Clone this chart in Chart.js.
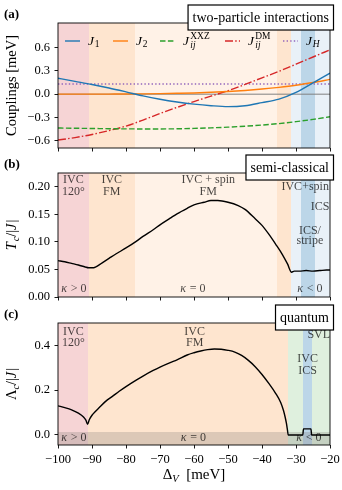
<!DOCTYPE html>
<html><head><meta charset="utf-8">
<script src="https://cdn.jsdelivr.net/npm/chart.js@4.4.1/dist/chart.umd.min.js"></script>
<style>
html,body{margin:0;padding:0;background:#fff;}
#wrap{position:relative;width:342px;height:490px;overflow:hidden;}
canvas{position:absolute;left:0;top:0;}
</style></head><body>
<div id="wrap">
<canvas id="ca" width="342" height="490"></canvas>
<canvas id="cb" width="342" height="490"></canvas>
<canvas id="cc" width="342" height="490"></canvas>
</div>
<script>
// ================= DATA =================
// panel (a): two-particle couplings [meV] vs Delta_V [meV]
const deltaV_a = [-100,-95,-90,-85,-80,-75,-70,-65,-60,-55,-50,-45,-40,-35,-30,-25,-20];
const J1    = [0.205,0.165,0.125,0.08,0.03,-0.022,-0.065,-0.10,-0.128,-0.148,-0.16,-0.148,-0.108,-0.063,0.023,0.145,0.27];
const J2    = [0,0,0,0.001,0.002,0.004,0.007,0.011,0.016,0.024,0.034,0.048,0.066,0.088,0.115,0.15,0.19];
const J_XXZ = [-0.435,-0.438,-0.441,-0.444,-0.446,-0.447,-0.447,-0.445,-0.44,-0.433,-0.424,-0.412,-0.397,-0.378,-0.353,-0.324,-0.29];
const J_DM  = [-0.59,-0.558,-0.518,-0.468,-0.41,-0.333,-0.248,-0.17,-0.095,-0.025,0.045,0.125,0.21,0.294,0.385,0.478,0.57];
const deltaV_H = [-100,-20];
const J_H   = [0.131,0.131];
const zeroRef = [0,0];

// panel (b): semi-classical T_c/|J|
const deltaV_b = [-100,-98,-96,-94,-92,-91,-90,-89.5,-89,-87,-85,-83,-80,-77,-75,-72,-70,-67,-65,-62,-60,-57,-55,-53,-50,-47,-45,-42,-40,-38,-36,-34,-32.5,-31.3,-30.5,-29,-27,-25,-23,-21,-20];
const Tc = [0.066,0.064,0.061,0.058,0.0545,0.053,0.053,0.053,0.054,0.062,0.070,0.078,0.089,0.101,0.110,0.122,0.131,0.143,0.151,0.161,0.167,0.172,0.175,0.175,0.172,0.166,0.159,0.142,0.130,0.114,0.096,0.077,0.060,0.045,0.047,0.047,0.048,0.047,0.048,0.049,0.049];

// panel (c): quantum Lambda_c/|J|
const deltaV_c = [-100,-98,-96,-94,-92.5,-91.8,-91.3,-90.8,-90,-89,-88,-86,-84,-82,-80,-77,-75,-72,-70,-67,-65,-62,-60,-58,-56,-54,-52,-50,-48,-46,-44,-42,-40,-38,-36,-34.5,-33.7,-33.2,-32.8,-32.5,-32.3,-28,-27.8,-25.6,-25.4,-20];
const Lc = [0.13,0.122,0.112,0.097,0.08,0.066,0.048,0.068,0.088,0.105,0.12,0.15,0.172,0.195,0.216,0.245,0.263,0.288,0.303,0.323,0.335,0.357,0.367,0.375,0.381,0.384,0.383,0.378,0.37,0.355,0.333,0.305,0.27,0.23,0.186,0.145,0.11,0.08,0.05,0.02,0,0,0.027,0.027,0,0];

// phase boundaries [meV]
const phaseEdgesAB = [-100,-90.8,-77.4,-35.7,-31.5,-28.5,-24.4,-20];
const phaseEdgesC  = [-100,-91.3,-32.3,-28,-25.2,-20];
const kappaBandTop = 0.012;

// ticks
const xTicks = [-100,-90,-80,-70,-60,-50,-40,-30,-20];
const xTickLabels = ['\u2212100','\u221290','\u221280','\u221270','\u221260','\u221250','\u221240','\u221230','\u221220'];
const yTicksA = [-0.6,-0.3,0,0.3,0.6];
const yTickLabelsA = ['\u22120.6','\u22120.3','0.0','0.3','0.6'];
const yTicksB = [0,0.05,0.1,0.15,0.2];
const yTickLabelsB = ['0.00','0.05','0.10','0.15','0.20'];
const yTicksC = [0,0.2,0.4];
const yTickLabelsC = ['0.0','0.2','0.4'];

// ================= STYLE =================
const FONT = "'Liberation Serif', serif";
const PINK='rgb(246,212,213)', ORANGE='rgb(254,229,207)', PEACH='rgb(255,242,231)',
      LBLUE='rgb(233,241,248)', BLUE='rgb(188,214,232)', GREEN='rgb(223,240,222)';
const BAND='rgba(120,115,110,0.25)';
const LABEL_COL='rgba(0,0,0,0.72)';
function F(size,it,bold){return (it?'italic ':'')+(bold?'bold ':'')+size+'px '+FONT;}
function pts(xs,ys){return xs.map((x,i)=>({x:x,y:ys[i]}));}

function segW(ctx,s,size){
  const sm=size*0.7;
  if(s.stack){ctx.font=F(sm,false);const a=ctx.measureText(s.sup).width;ctx.font=F(sm,true);const b=ctx.measureText(s.sub).width;return Math.max(a,b)+1;}
  const fs=(s.sub||s.sup)?sm:size; ctx.font=F(fs,s.it);
  return ctx.measureText(s.t).width+(s.it&&!s.sub&&!s.sup?size*0.06:0);
}
function drawRich(ctx,segs,x,y,size,align,color){
  const ws=segs.map(s=>segW(ctx,s,size));
  const tot=ws.reduce((a,b)=>a+b,0);
  let cx=align==='center'?x-tot/2:(align==='right'?x-tot:x);
  ctx.save();ctx.fillStyle=color||'#000';ctx.textBaseline='middle';ctx.textAlign='left';
  const sm=size*0.7;
  segs.forEach((s,i)=>{
    if(s.stack){ctx.font=F(sm,false);ctx.fillText(s.sup,cx+0.5,y-size*0.36);ctx.font=F(sm,true);ctx.fillText(s.sub,cx+0.5,y+size*0.3);}
    else if(s.sub){ctx.font=F(sm,s.it);ctx.fillText(s.t,cx,y+size*0.28);}
    else if(s.sup){ctx.font=F(sm,s.it);ctx.fillText(s.t,cx,y-size*0.36);}
    else {ctx.font=F(size,s.it);ctx.fillText(s.t,cx,y);}
    cx+=ws[i];
  });
  ctx.restore();return tot;
}
const R=t=>({t:t}), I=t=>({t:t,it:true}), SUB=(t,it)=>({t:t,sub:true,it:!!it});

function decoPlugin(p){
  return {
    id:'deco'+p.name,
    beforeDraw(chart){
      const ctx=chart.ctx,a=chart.chartArea,xs=chart.scales.x,ys=chart.scales.y;
      ctx.save();
      for(let i=0;i<p.edges.length-1;i++){
        const x0=Math.round(xs.getPixelForValue(p.edges[i])),x1=Math.round(xs.getPixelForValue(p.edges[i+1]));
        ctx.fillStyle=p.colors[i];ctx.fillRect(x0,a.top,x1-x0,a.bottom-a.top);
      }
      if(p.band!==undefined){const yb=Math.round(ys.getPixelForValue(p.band));ctx.fillStyle=BAND;ctx.fillRect(a.left,yb,a.right-a.left,a.bottom-yb);}
      ctx.restore();
    },
    afterDraw(chart){
      const ctx=chart.ctx,a=chart.chartArea,xs=chart.scales.x,ys=chart.scales.y;
      // frame
      ctx.save();ctx.strokeStyle='#000';ctx.lineWidth=0.9;ctx.strokeRect(a.left,a.top,a.right-a.left,a.bottom-a.top);ctx.restore();
      // region labels
      ctx.save();ctx.beginPath();ctx.rect(a.left,a.top,a.right-a.left,a.bottom-a.top);ctx.clip();
      (p.labels||[]).forEach(L=>{
        const px=xs.getPixelForValue(L.x);
        L.lines.forEach((ln,k)=>{
          const segs=Array.isArray(ln)?ln:[R(ln)];
          drawRich(ctx,segs,px,ys.getPixelForValue(L.y[k]),L.size||12,'center',LABEL_COL);
        });
      });
      ctx.restore();
      // legend
      if(p.legend){
        const ly=a.top+p.legend.dy;
        p.legend.items.forEach((it,k)=>{
          const x0=a.left+p.legend.offs[k];
          ctx.save();ctx.strokeStyle=it.color;ctx.lineWidth=1.4;ctx.setLineDash(it.dash);
          ctx.beginPath();ctx.moveTo(x0,ly);ctx.lineTo(x0+15,ly);ctx.stroke();ctx.restore();
          drawRich(ctx,it.segs,x0+23,ly,13.5,'left','#000');
        });
      }
      // title box
      if(p.box){
        ctx.save();ctx.font=F(14);const w=ctx.measureText(p.box).width+9;const h=25;
        const rx=a.right+3.5, ty=a.top-18;
        ctx.fillStyle='#fff';ctx.fillRect(rx-w,ty,w,h);
        ctx.strokeStyle='#000';ctx.lineWidth=1.2;ctx.strokeRect(rx-w,ty,w,h);
        ctx.fillStyle='#000';ctx.textBaseline='middle';ctx.textAlign='center';
        ctx.fillText(p.box,rx-w/2,ty+h/2+0.5);ctx.restore();
      }
      // panel letter
      ctx.save();ctx.font=F(13,false,true);ctx.fillStyle='#000';ctx.textBaseline='middle';ctx.textAlign='left';
      ctx.fillText(p.letter,4,a.top-8);ctx.restore();
      // y title
      ctx.save();ctx.translate(12,(a.top+a.bottom)/2);ctx.rotate(-Math.PI/2);
      drawRich(ctx,p.ytitle,0,0,14.5,'center','#000');ctx.restore();
      // x title
      if(p.xtitle){drawRich(ctx,p.xtitle,(a.left+a.right)/2,475,15,'center','#000');}
    }
  };
}

function makeChart(id,cfg){
  return new Chart(document.getElementById(id),{
    type:'line',
    data:{datasets:cfg.datasets},
    options:{
      responsive:false,animation:false,devicePixelRatio:1,
      layout:{padding:{left:0,right:12,top:cfg.top,bottom:490-cfg.bottom-cfg.xh}},
      plugins:{legend:{display:false},tooltip:{enabled:false}},
      elements:{point:{radius:0},line:{cubicInterpolationMode:'monotone'}},
      scales:{
        x:{type:'linear',min:-100,max:-20,
          afterBuildTicks:s=>{s.ticks=xTicks.map(v=>({value:v}));},
          afterFit:s=>{s.height=cfg.xh;s.paddingLeft=0;s.paddingRight=0;},
          grid:{display:true,drawOnChartArea:false,drawTicks:true,tickLength:3.5,tickColor:'#000',tickWidth:0.9,color:'#000',lineWidth:0.9},
          border:{display:false},
          ticks:{display:cfg.xlabels,padding:4,color:'#000',font:{family:FONT,size:12.5},maxRotation:0,autoSkip:false,
                 callback:(v,i)=>xTickLabels[i]}
        },
        y:{type:'linear',min:cfg.ymin,max:cfg.ymax,
          afterBuildTicks:s=>{s.ticks=cfg.yticks.map(v=>({value:v}));},
          afterFit:s=>{s.width=58;s.paddingTop=0;s.paddingBottom=0;},
          grid:{display:true,drawOnChartArea:false,drawTicks:true,tickLength:3.5,tickColor:'#000',tickWidth:0.9,color:'#000',lineWidth:0.9},
          border:{display:false},
          ticks:{padding:4.5,color:'#000',font:{family:FONT,size:12.5},autoSkip:false,
                 callback:(v,i)=>cfg.ylabels[i]}
        }
      }
    },
    plugins:[cfg.plugin]
  });
}

const LW=1.4;
// panel (a)
makeChart('ca',{
  top:23,bottom:148,xh:4,xlabels:false,ymin:-0.692,ymax:0.915,yticks:yTicksA,ylabels:yTickLabelsA,
  datasets:[
    {data:pts(deltaV_a,J1),borderColor:'#1f77b4',borderWidth:LW},
    {data:pts(deltaV_a,J2),borderColor:'#ff7f0e',borderWidth:LW},
    {data:pts(deltaV_a,J_XXZ),borderColor:'#2ca02c',borderWidth:LW,borderDash:[5.5,2.4]},
    {data:pts(deltaV_a,J_DM),borderColor:'#d62728',borderWidth:LW,borderDash:[8,2.2,1.5,2.2]},
    {data:pts(deltaV_H,J_H),borderColor:'#9467bd',borderWidth:LW,borderDash:[1.4,2.2]},
    {data:pts(deltaV_H,zeroRef),borderColor:'#808080',borderWidth:1}
  ],
  plugin:decoPlugin({name:'a',letter:'(a)',edges:phaseEdgesAB,colors:[PINK,ORANGE,PEACH,ORANGE,LBLUE,BLUE,LBLUE],
    box:'two-particle interactions',
    ytitle:[R('Couplings [meV]')],
    legend:{dy:18,offs:[7,55,102,167,225],items:[
      {color:'#1f77b4',dash:[],segs:[I('J'),SUB('1')]},
      {color:'#ff7f0e',dash:[],segs:[I('J'),SUB('2')]},
      {color:'#2ca02c',dash:[5.5,2.4],segs:[I('J'),{stack:true,sup:'XXZ',sub:'ij'}]},
      {color:'#d62728',dash:[8,2.2,1.5,2.2],segs:[I('J'),{stack:true,sup:'DM',sub:'ij'}]},
      {color:'#9467bd',dash:[1.4,2.2],segs:[I('J'),SUB('H',true)]}
    ]}
  })
});

// panel (b)
makeChart('cb',{
  top:173,bottom:297,xh:4,xlabels:false,ymin:0,ymax:0.225,yticks:yTicksB,ylabels:yTickLabelsB,
  datasets:[{data:pts(deltaV_b,Tc),borderColor:'#000',borderWidth:LW}],
  plugin:decoPlugin({name:'b',letter:'(b)',edges:phaseEdgesAB,colors:[PINK,ORANGE,PEACH,ORANGE,LBLUE,BLUE,LBLUE],
    box:'semi-classical',
    ytitle:[I('T'),SUB('c',true),R('/|'),I('J'),R('|')],
    labels:[
      {lines:['IVC','120\u00b0'],x:-95.5,y:[0.212,0.19]},
      {lines:['IVC','FM'],x:-84.2,y:[0.212,0.19]},
      {lines:['IVC + spin','FM'],x:-55.8,y:[0.212,0.19]},
      {lines:['IVC+spin'],x:-27.3,y:[0.2]},
      {lines:['ICS'],x:-22.9,y:[0.163]},
      {lines:['ICS/','stripe'],x:-25.9,y:[0.12,0.101]},
      {lines:[[I('\u03ba'),R(' > 0')]],x:-95.3,y:[0.015]},
      {lines:[[I('\u03ba'),R(' = 0')]],x:-60.3,y:[0.015]},
      {lines:[[I('\u03ba'),R(' < 0')]],x:-25.9,y:[0.015]}
    ]})
});

// panel (c)
makeChart('cc',{
  top:323,bottom:445,xh:45,xlabels:true,ymin:-0.045,ymax:0.5,yticks:yTicksC,ylabels:yTickLabelsC,
  datasets:[{data:pts(deltaV_c,Lc),borderColor:'#000',borderWidth:LW}],
  plugin:decoPlugin({name:'c',letter:'(c)',edges:phaseEdgesC,colors:[PINK,ORANGE,GREEN,BLUE,GREEN],band:kappaBandTop,
    box:'quantum',
    ytitle:[R('\u039b'),SUB('c',true),R('/|'),I('J'),R('|')],
    xtitle:[R('\u0394'),SUB('V',true),R('  [meV]')],
    labels:[
      {lines:['IVC','120\u00b0'],x:-95.5,y:[0.46,0.412]},
      {lines:['IVC','FM'],x:-59.8,y:[0.46,0.412]},
      {lines:['SVL'],x:-23.3,y:[0.447]},
      {lines:['IVC','ICS'],x:-26.6,y:[0.339,0.288]},
      {lines:[[I('\u03ba'),R(' > 0')]],x:-95.3,y:[-0.015]},
      {lines:[[I('\u03ba'),R(' = 0')]],x:-60.2,y:[-0.015]},
      {lines:[[I('\u03ba'),R(' < 0')]],x:-26.2,y:[-0.015]}
    ]})
});
</script>
</body></html>
